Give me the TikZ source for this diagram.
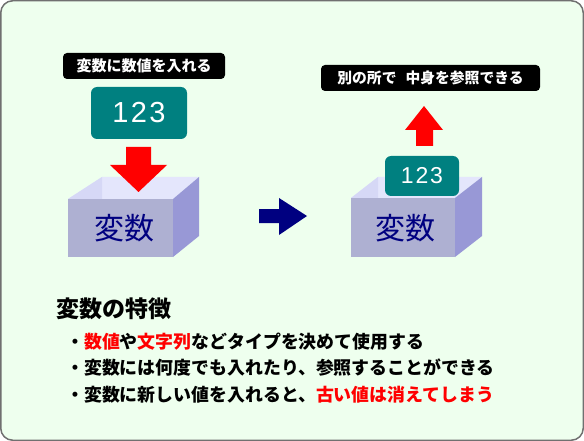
\documentclass[tikz,border=0pt]{standalone}
\usepackage{fontspec}
\setmainfont{Liberation Sans}
\newfontfamily\jp{Noto Sans CJK JP}
\definecolor{bg}{HTML}{EEFFEE}
\definecolor{frame}{HTML}{707070}
\definecolor{tealbox}{HTML}{008080}
\definecolor{frontc}{HTML}{AEB0D2}
\definecolor{topc}{HTML}{E4E6FC}
\definecolor{innerc}{HTML}{D6D8F6}
\definecolor{sidec}{HTML}{9898D6}
\definecolor{navy}{HTML}{000080}
\definecolor{red}{HTML}{FF0000}
\tikzset{
  label box/.style={fill=black, rounded corners=4pt, inner sep=0pt},
  value box/.style={fill=tealbox, rounded corners=6pt, inner sep=0pt},
  box text/.style={text=navy, font=\jp\fontsize{30}{30}\selectfont, inner sep=0pt},
  bullet/.style={anchor=west, inner sep=0pt, font=\jp\bfseries\fontsize{17.9}{18}\selectfont},
}
\begin{document}
\begin{tikzpicture}[x=1pt,y=-1pt]
\useasboundingbox (0,0) rectangle (584,441);
\draw[frame, line width=1.5pt, fill=bg, rounded corners=12pt] (0.75,0.75) rectangle (583.25,440.25);

% ---------- left variable box ----------
\fill[frontc] (68,199) rectangle (173,257);
\fill[topc] (68,199) -- (102,177) -- (199,177) -- (173,199) -- cycle;
\fill[innerc] (68,199) -- (102,177) -- (102,199) -- cycle;
\fill[sidec] (173,199) -- (199,177) -- (199,236) -- (173,257) -- cycle;
\node[box text] (lvar) at (124,228) {変数};

% red arrow down
\fill[red] (126,147) -- (151,147) -- (151,165) -- (167,165) -- (138.5,192) -- (110,165) -- (126,165) -- cycle;

% label and value
\node[label box, minimum width=162pt, minimum height=26pt] (llab) at (144,66)
  {\color{white}\jp\bfseries\fontsize{15}{15}\selectfont 変数に数値を入れる};
\node[value box, minimum width=96pt, minimum height=52pt] (lval) at (139,113)
  {\color{white}\addfontfeature{LetterSpace=8}\fontsize{29}{29}\selectfont 123};

% ---------- navy arrow ----------
\fill[navy] (259,209) -- (279,209) -- (279,198) -- (307,216) -- (279,235) -- (279,223) -- (259,223) -- cycle;

% ---------- right variable box ----------
\fill[frontc] (351,198) rectangle (455,257);
\fill[topc] (351,198) -- (378,177) -- (482,177) -- (455,198) -- cycle;
\fill[innerc] (351,198) -- (378,177) -- (378,198) -- cycle;
\fill[sidec] (455,198) -- (482,177) -- (482,236) -- (455,257) -- cycle;
\node[box text] (rvar) at (405,228) {変数};

\node[value box, minimum width=74pt, minimum height=40pt] (rval) at (422,176)
  {\color{white}\addfontfeature{LetterSpace=8}\fontsize{23}{23}\selectfont 123};

% red arrow up
\fill[red] (416,146) -- (433,146) -- (433,130) -- (443,130) -- (424,106) -- (405,130) -- (416,130) -- cycle;

\node[label box, minimum width=219pt, minimum height=26pt] (rlab) at (430.5,78)
  {\color{white}\jp\bfseries\fontsize{14.8}{15}\selectfont 別の所で\hspace{9pt}中身を参照できる};

% ---------- features ----------
\node[anchor=west, inner sep=0pt, font=\jp\bfseries\fontsize{23}{24}\selectfont] (title) at (56,309) {変数の特徴};
\node[bullet] (b1) at (66,342) {・\textcolor{red}{数値}や\textcolor{red}{文字列}などタイプを決めて使用する};
\node[bullet] (b2) at (66,368) {・変数には何度でも入れたり、参照することができる};
\node[bullet] (b3) at (66,395) {・変数に新しい値を入れると、\textcolor{red}{古い値は消えてしまう}};
\end{tikzpicture}
\end{document}
